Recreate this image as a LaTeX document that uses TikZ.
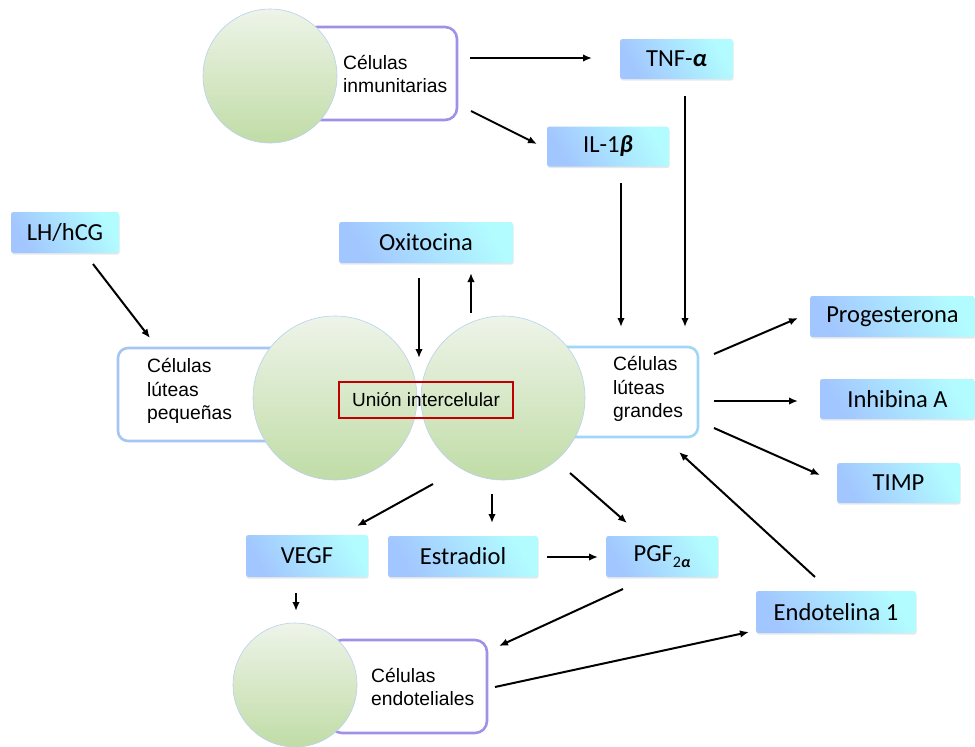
\documentclass[tikz,border=0pt]{standalone}
\usepackage{fontspec}
\setmainfont{Carlito}
\newfontfamily\cellfont{Liberation Sans}
\usetikzlibrary{arrows.meta,shadows}
\definecolor{boxL}{RGB}{162,198,255}
\definecolor{boxR}{RGB}{178,252,255}
\definecolor{cellTop}{RGB}{238,244,233}
\definecolor{cellBot}{RGB}{192,220,166}
\definecolor{cellEdge}{RGB}{185,208,240}
\definecolor{purpleEdge}{RGB}{160,145,232}
\definecolor{blueEdge}{RGB}{165,198,245}
\definecolor{cyanEdge}{RGB}{160,215,245}
\definecolor{redEdge}{RGB}{192,0,0}
\begin{document}
\begin{tikzpicture}[x=1pt,y=-1pt,
  sbox/.style={rounded corners=2.5pt, top color=boxR, bottom color=boxL, shading angle=-60,
    draw=none, font=\fontsize{24.5}{27}\selectfont, inner sep=0pt,
    drop shadow={opacity=0.18, shadow xshift=0.6pt, shadow yshift=-1.6pt}},
  cell/.style={circle, top color=cellTop, bottom color=cellBot, draw=cellEdge,
    line width=0.6pt, inner sep=0pt},
  membrane/.style={rectangle, rounded corners=12pt, fill=white, line width=2.6pt, inner sep=0pt},
  lbl/.style={font=\cellfont\fontsize{19.3}{23.5}\selectfont, align=left, anchor=west, inner sep=0pt},
  arr/.style={line width=2pt, -{Latex[length=9pt,width=7.5pt]}},
  ]
\useasboundingbox (0,0) rectangle (975,747);
\fill[white] (0,0) rectangle (975,747);

% membranes (behind the cells)
\node[membrane, draw=purpleEdge, minimum width=152pt, minimum height=93pt] (immb) at (381,73.5) {};
\node[membrane, draw=blueEdge, rounded corners=10pt, minimum width=182pt, minimum height=93pt] (smallb) at (209,394.5) {};
\node[membrane, draw=cyanEdge, rounded corners=10pt, minimum width=153pt, minimum height=90pt] (bigb) at (621.5,392) {};
\node[membrane, draw=purpleEdge, minimum width=157pt, minimum height=93pt] (endob) at (408.5,686.5) {};

% cells
\node[cell, minimum size=134pt] (immc) at (270,76) {};
\node[cell, minimum size=164pt] (smallc) at (335,398) {};
\node[cell, minimum size=164pt] (bigc) at (503,398) {};
\node[cell, minimum size=124pt] (endoc) at (295,685) {};

% cell labels
\node[lbl] (imml) at (343,74) {Células\\inmunitarias};
\node[lbl] (smalll) at (147,391) {Células\\lúteas\\pequeñas};
\node[lbl] (bigl) at (613,389) {Células\\lúteas\\grandes};
\node[lbl] (endol) at (371,687) {Células\\endoteliales};

% intercellular junction
\node[draw=redEdge, line width=1.8pt, minimum width=174pt, minimum height=36pt, inner sep=0pt,
  font=\cellfont\fontsize{19}{23}\selectfont] (union) at (426,400) {Unión intercelular};

% signal boxes
\node[sbox, minimum width=113pt, minimum height=40pt] (tnf) at (676.5,59) {TNF-\textbf{\textit{α}}};
\node[sbox, minimum width=122pt, minimum height=40pt] (il) at (608,146.5) {IL-1\textbf{\textit{β}}};
\node[sbox, minimum width=108pt, minimum height=41pt] (lh) at (65,232.5) {LH/hCG};
\node[sbox, minimum width=174pt, minimum height=41pt] (oxi) at (426,242.5) {Oxitocina};
\node[sbox, minimum width=165pt, minimum height=41pt] (prog) at (892.5,316.5) {Progesterona};
\node[sbox, minimum width=155pt, minimum height=40pt] (inh) at (897.5,399) {Inhibina A};
\node[sbox, minimum width=123pt, minimum height=40pt] (timp) at (898.5,483) {TIMP};
\node[sbox, minimum width=122pt, minimum height=42pt] (vegf) at (307,556) {VEGF};
\node[sbox, minimum width=150pt, minimum height=41pt] (estr) at (463,556.5) {Estradiol};
\node[sbox, minimum width=112pt, minimum height=41pt] (pgf) at (662,556.5)
  {PGF\raisebox{-0.25em}{\fontsize{16}{16}\selectfont 2\textbf{\textit{α}}}};
\node[sbox, minimum width=160pt, minimum height=42pt] (endo) at (836,612) {Endotelina 1};

% connector end points
\coordinate (c1s) at (470,58);   \coordinate (c1e) at (592,58);
\coordinate (c2s) at (471,111);  \coordinate (c2e) at (537,144);
\coordinate (c3s) at (685,96);   \coordinate (c3e) at (685,327);
\coordinate (c4s) at (621,183);  \coordinate (c4e) at (621,327);
\coordinate (c5s) at (93,264);   \coordinate (c5e) at (150,338);
\coordinate (c6s) at (419,278);  \coordinate (c6e) at (419,358);
\coordinate (c7s) at (471,313);  \coordinate (c7e) at (471,273);
\coordinate (c8s) at (714,354);  \coordinate (c8e) at (798,318);
\coordinate (c9s) at (714,401);  \coordinate (c9e) at (798,401);
\coordinate (c10s) at (714,428); \coordinate (c10e) at (820,475);
\coordinate (c11s) at (433,484); \coordinate (c11e) at (357,526);
\coordinate (c12s) at (492,494); \coordinate (c12e) at (492,523);
\coordinate (c13s) at (570,473); \coordinate (c13e) at (627,523);
\coordinate (c14s) at (547,557); \coordinate (c14e) at (598,557);
\coordinate (c15s) at (296,593); \coordinate (c15e) at (296,611);
\coordinate (c16s) at (623,589); \coordinate (c16e) at (499,646);
\coordinate (c17s) at (495,687); \coordinate (c17e) at (749,632);
\coordinate (c18s) at (815,577); \coordinate (c18e) at (679,452);

\foreach \i in {1,...,18} \draw[arr] (c\i s) -- (c\i e);
\end{tikzpicture}
\end{document}
